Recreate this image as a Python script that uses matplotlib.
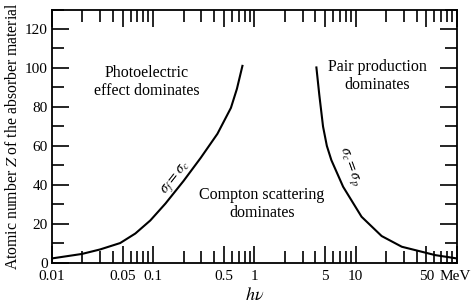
import numpy as np
import matplotlib as mpl
mpl.use('Agg')
import matplotlib.pyplot as plt
import matplotlib.transforms as mtransforms
from matplotlib.ticker import FixedLocator, FixedFormatter, NullFormatter

plt.rcParams['font.family'] = ['Liberation Serif', 'DejaVu Serif']
plt.rcParams['mathtext.fontset'] = 'stix'

# photoelectric = Compton boundary (hv in MeV, Z)
pe_hv = [0.01, 0.0198, 0.0299, 0.0473, 0.0668, 0.0939, 0.1326, 0.200,
         0.295, 0.432, 0.587, 0.673, 0.767]
pe_z = [2.2, 4.5, 6.8, 10.1, 15.0, 21.7, 30.4, 42.0, 53.8, 66.2, 79.5, 89.3, 101.6]

# Compton = pair production boundary
pp_hv = [4.09, 4.38, 4.77, 5.2, 5.76, 7.53, 11.45, 18.08, 28.6, 61.2, 100]
pp_z = [100.8, 86.2, 69.9, 60.0, 52.7, 39.0, 23.6, 13.7, 8.2, 3.9, 2.2]

x_major = [0.01, 0.05, 0.1, 0.5, 1, 5, 10, 50, 100]
x_labels = ['0.01', '0.05', '0.1', '0.5', '1', '5', '10', '50', 'MeV']
x_minor = [m * d for d in [0.01, 0.1, 1, 10] for m in [2, 3, 4, 6, 7, 8, 9]]
y_major = [0, 20, 40, 60, 80, 100, 120]
y_minor = [10, 30, 50, 70, 90, 110, 130]

fig = plt.figure(figsize=(4.71, 3.08), dpi=100)
ax = fig.add_axes([0.110, 0.147, 0.860, 0.822])

ax.plot(pe_hv, pe_z, color='black', lw=1.5, solid_capstyle='butt')
ax.plot(pp_hv, pp_z, color='black', lw=1.5, solid_capstyle='butt')

ax.set_xscale('log')
ax.set_xlim(0.01, 100)
ax.set_ylim(0, 130)

ax.xaxis.set_major_locator(FixedLocator(x_major))
ax.xaxis.set_major_formatter(FixedFormatter(x_labels))
ax.xaxis.set_minor_locator(FixedLocator(x_minor))
ax.xaxis.set_minor_formatter(NullFormatter())
ax.yaxis.set_major_locator(FixedLocator(y_major))
ax.yaxis.set_minor_locator(FixedLocator(y_minor))

ax.tick_params(which='both', direction='in', top=True, right=True,
               width=1.2, labelsize=11, colors='black')
ax.tick_params(which='major', length=12)
ax.tick_params(which='minor', length=8.5)
ax.tick_params(axis='x', pad=5)
ax.tick_params(axis='y', pad=3)

for s in ax.spines.values():
    s.set_linewidth(1.3)

ax.set_xlabel(r'$h\nu$', fontsize=13, labelpad=3)
ax.set_ylabel(r'Atomic number $Z$ of the absorber material', fontsize=11.3, labelpad=3)

ax.text(0.086, 93, 'Photoelectric\neffect dominates', ha='center', va='center',
        fontsize=11.5, linespacing=1.15)
ax.text(16.5, 96, 'Pair production\ndominates', ha='center', va='center',
        fontsize=11.5, linespacing=1.15)
ax.text(1.19, 30, 'Compton scattering\ndominates', ha='center', va='center',
        fontsize=11.5, linespacing=1.15)

ax.text(0.17, 43.5, r'$\sigma_f = \sigma_c$', rotation=52, ha='center', va='center',
        fontsize=10.5)
ax.text(8.7, 49.4, r'$\sigma_c = \sigma_p$', rotation=-70, ha='center', va='center',
        fontsize=10.5)

# keep the last label ("MeV") inside the figure
fig.canvas.draw()
mev = ax.xaxis.get_major_ticks()[-1].label1
mev.set_horizontalalignment('right')
mev.set_transform(mev.get_transform()
                  + mtransforms.ScaledTranslation(14 / 100, 0, fig.dpi_scale_trans))

fig.savefig('out.png', dpi=100)
